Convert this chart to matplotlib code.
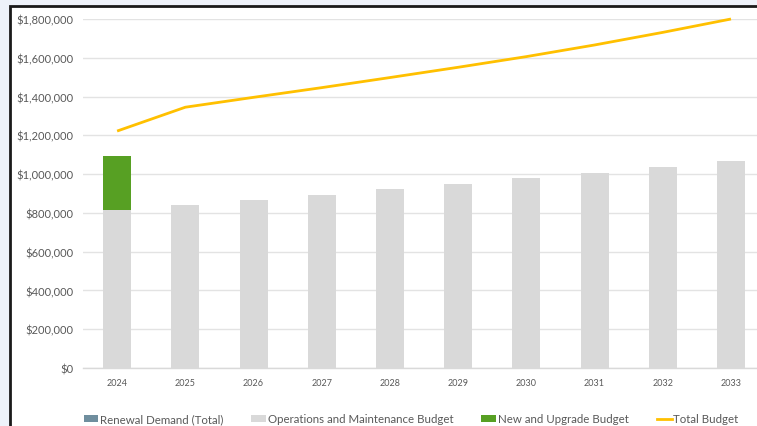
import matplotlib
matplotlib.use("Agg")
import matplotlib.pyplot as plt
from matplotlib.patches import Rectangle, Patch
from matplotlib.lines import Line2D
from matplotlib.ticker import FuncFormatter
import numpy as np

years = ["2024", "2025", "2026", "2027", "2028", "2029", "2030", "2031", "2032", "2033"]
renewal_demand = [0, 0, 0, 0, 0, 0, 0, 0, 0, 0]
om_budget = [815000, 841000, 866000, 892000, 923000, 949000, 980000, 1006000, 1037000, 1068000]
new_upgrade_budget = [278000, 0, 0, 0, 0, 0, 0, 0, 0, 0]
total_budget = [1222000, 1345000, 1396000, 1446000, 1498000, 1551000, 1606000, 1666000, 1731000, 1800000]
y_ticks = [0, 200000, 400000, 600000, 800000, 1000000, 1200000, 1400000, 1600000, 1800000]

C_RENEW = "#6F8E9E"
C_OM = "#D9D9D9"
C_NEW = "#57A023"
C_TOTAL = "#FFC000"
TXT = "#595959"

plt.rcParams["font.family"] = ["Lato", "DejaVu Sans"]

W, H = 757, 427
fig = plt.figure(figsize=(W / 100, H / 100), dpi=100, facecolor="#EEF2FA")

# white chart panel with a dark frame on the visible edges
panel = Rectangle((10 / W, -0.1), 1.2, 1 - 7 / H + 0.1, transform=fig.transFigure,
                  facecolor="white", edgecolor="#1A1A1A", linewidth=2.0, zorder=-10)
fig.patches.append(panel)

ax = fig.add_axes([83 / W, 1 - 369 / H, 1 - 83 / W, (369 - 20) / H])
ax.set_zorder(5)
ax.set_facecolor("none")

x = np.arange(len(years))
bw = 0.41
ax.bar(x, renewal_demand, bw, color=C_RENEW, linewidth=0, zorder=2)
ax.bar(x, om_budget, bw, color=C_OM, linewidth=0, zorder=2)
ax.bar(x, new_upgrade_budget, bw, bottom=om_budget, color=C_NEW, linewidth=0, zorder=2)
ax.plot(x, total_budget, color=C_TOTAL, linewidth=2.0, zorder=3, clip_on=False,
        solid_capstyle="butt")

ax.set_ylim(0, 1800000)
ax.set_xlim(-0.5, 9 + (757 - 731) / 68.2)
ax.set_yticks(y_ticks)
ax.yaxis.set_major_formatter(FuncFormatter(lambda v, p: f"${v:,.0f}"))
ax.set_xticks(x)
ax.set_xticklabels(years)
ax.grid(axis="y", color="#E3E3E3", linewidth=1.0, zorder=0)
ax.set_axisbelow(True)
for s in ["top", "right", "left"]:
    ax.spines[s].set_visible(False)
ax.spines["bottom"].set_color("#D9D9D9")
ax.spines["bottom"].set_linewidth(1.0)
ax.tick_params(axis="y", length=0, pad=7, labelsize=8, labelcolor=TXT)
ax.tick_params(axis="x", length=0, pad=7, labelsize=6.5, labelcolor=TXT)

handles = [
    Patch(facecolor=C_RENEW, label="Renewal Demand (Total)"),
    Patch(facecolor=C_OM, label="Operations and Maintenance Budget"),
    Patch(facecolor=C_NEW, label="New and Upgrade Budget"),
    Line2D([0], [0], color=C_TOTAL, linewidth=2.0, label="Total Budget"),
]
leg = fig.legend(handles=handles, loc="center", bbox_to_anchor=(411 / W, 1 - 420 / H), ncol=4,
                 frameon=False, fontsize=8.3, labelcolor=TXT, handlelength=1.3, handleheight=0.65,
                 handletextpad=0.15, columnspacing=2.4)
leg.set_zorder(6)

fig.savefig("out.png", dpi=100, facecolor=fig.get_facecolor())
